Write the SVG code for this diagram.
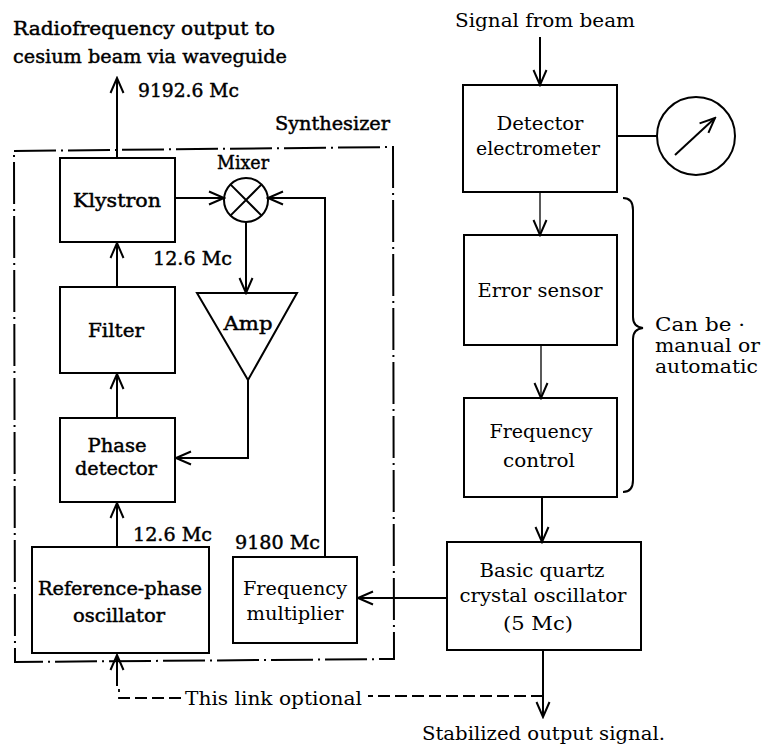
<svg xmlns="http://www.w3.org/2000/svg" width="764" height="744" viewBox="0 0 764 744">
<style>
text{font-family:"DejaVu Serif","Liberation Serif",serif;font-size:19px;fill:#000}
.b{stroke:#000;stroke-width:0.45}
.c{text-anchor:middle}
.box{fill:#fff;stroke:#000;stroke-width:2}
.ln{fill:none;stroke:#000;stroke-width:2}
.thin{fill:none;stroke:#000;stroke-width:1.3}
.dash{fill:none;stroke:#000;stroke-width:1.8;stroke-dasharray:12 5}
.synth{fill:none;stroke:#000;stroke-width:2;stroke-dasharray:42 5 2 5}
</style>
<defs>
<marker id="ah" markerWidth="18" markerHeight="16" refX="16" refY="8" orient="auto" markerUnits="userSpaceOnUse" viewBox="0 0 18 16">
<path d="M1,1.5 L16,8 L1,14.5" fill="none" stroke="#000" stroke-width="2"/>
</marker>
</defs>

<rect width="764" height="744" fill="#fff"/>

<g id="synthesizer">
<path class="synth" d="M14,151 L393,147 L394,659 L15,662 Z"/>
<text class="b" x="275" y="130" textLength="115" lengthAdjust="spacingAndGlyphs">Synthesizer</text>
</g>

<g id="labels">
<text class="b" x="13" y="35" textLength="262" lengthAdjust="spacingAndGlyphs">Radiofrequency output to</text>
<text class="b" x="13" y="63" textLength="274" lengthAdjust="spacingAndGlyphs">cesium beam via waveguide</text>
<text class="b" x="138" y="97" textLength="101" lengthAdjust="spacingAndGlyphs">9192.6 Mc</text>
<text class="b" x="153" y="265" textLength="79" lengthAdjust="spacingAndGlyphs">12.6 Mc</text>
<text class="b" x="133" y="541" textLength="79" lengthAdjust="spacingAndGlyphs">12.6 Mc</text>
<text class="b" x="235" y="549" textLength="85" lengthAdjust="spacingAndGlyphs">9180 Mc</text>
<text x="455" y="27" textLength="180" lengthAdjust="spacingAndGlyphs">Signal from beam</text>
<text x="655" y="331" textLength="90" lengthAdjust="spacingAndGlyphs">Can be ·</text>
<text x="655" y="352" textLength="105" lengthAdjust="spacingAndGlyphs">manual or</text>
<text x="655" y="373" textLength="103" lengthAdjust="spacingAndGlyphs">automatic</text>
<text x="185" y="705" textLength="177" lengthAdjust="spacingAndGlyphs">This link optional</text>
<text x="422" y="740" textLength="243" lengthAdjust="spacingAndGlyphs">Stabilized output signal.</text>
<path class="ln" d="M623,198 Q633,198 633,210 V317 Q633,327 643,328 Q633,329 633,339 V480 Q633,492 623,492"/>
</g>

<g id="klystron">
<rect class="box" x="60" y="158" width="115" height="84"/>
<text class="b c" x="117" y="207" textLength="88" lengthAdjust="spacingAndGlyphs">Klystron</text>
</g>

<g id="mixer">
<circle cx="246" cy="200" r="22" fill="#fff" stroke="#000" stroke-width="2"/>
<path class="ln" d="M230.4,184.4 L261.6,215.6 M261.6,184.4 L230.4,215.6"/>
<text class="b c" x="243" y="169" textLength="52" lengthAdjust="spacingAndGlyphs">Mixer</text>
</g>

<g id="amp">
<polygon points="197,293 297,293 248,380" fill="#fff" stroke="#000" stroke-width="2"/>
<text class="b c" x="248" y="330" textLength="49" lengthAdjust="spacingAndGlyphs">Amp</text>
</g>

<g id="filter">
<rect class="box" x="60" y="287" width="115" height="86"/>
<text class="b c" x="116" y="337" textLength="56" lengthAdjust="spacingAndGlyphs">Filter</text>
</g>

<g id="phase-detector">
<rect class="box" x="60" y="418" width="115" height="84"/>
<text class="b c" x="117" y="452" textLength="59" lengthAdjust="spacingAndGlyphs">Phase</text>
<text class="b c" x="116" y="475" textLength="82" lengthAdjust="spacingAndGlyphs">detector</text>
</g>

<g id="reference-oscillator">
<rect class="box" x="32" y="547" width="177" height="106"/>
<text class="b c" x="120" y="595" textLength="164" lengthAdjust="spacingAndGlyphs">Reference-phase</text>
<text class="b c" x="119" y="622" textLength="92" lengthAdjust="spacingAndGlyphs">oscillator</text>
</g>

<g id="frequency-multiplier">
<rect class="box" x="233" y="557" width="124" height="86"/>
<text class="c" x="295" y="595" textLength="104" lengthAdjust="spacingAndGlyphs">Frequency</text>
<text class="c" x="295" y="620" textLength="97" lengthAdjust="spacingAndGlyphs">multiplier</text>
</g>

<g id="detector-electrometer">
<rect class="box" x="463" y="85" width="154" height="107"/>
<text class="c" x="540" y="130" textLength="87" lengthAdjust="spacingAndGlyphs">Detector</text>
<text class="c" x="538" y="155" textLength="124" lengthAdjust="spacingAndGlyphs">electrometer</text>
</g>

<g id="meter">
<circle cx="696" cy="136" r="39" fill="#fff" stroke="#000" stroke-width="2"/>
<line class="ln" x1="675" y1="155" x2="715" y2="118" marker-end="url(#ah)"/>
</g>

<g id="error-sensor">
<rect class="box" x="464" y="235" width="153" height="110"/>
<text class="c" x="540" y="297" textLength="125" lengthAdjust="spacingAndGlyphs">Error sensor</text>
</g>

<g id="frequency-control">
<rect class="box" x="464" y="398" width="153" height="99"/>
<text class="c" x="541" y="438" textLength="103" lengthAdjust="spacingAndGlyphs">Frequency</text>
<text class="c" x="539" y="467" textLength="72" lengthAdjust="spacingAndGlyphs">control</text>
</g>

<g id="crystal-oscillator">
<rect class="box" x="447" y="542" width="194" height="108"/>
<text class="c" x="542" y="577" textLength="125" lengthAdjust="spacingAndGlyphs">Basic quartz</text>
<text class="c" x="543" y="602" textLength="167" lengthAdjust="spacingAndGlyphs">crystal oscillator</text>
<text class="c" x="538" y="630" textLength="70" lengthAdjust="spacingAndGlyphs">(5 Mc)</text>
</g>

<g id="connectors">
<line class="ln" x1="117" y1="158" x2="117" y2="78" marker-end="url(#ah)"/>
<line class="ln" x1="117" y1="287" x2="117" y2="243" marker-end="url(#ah)"/>
<line class="ln" x1="117" y1="418" x2="117" y2="374" marker-end="url(#ah)"/>
<line class="ln" x1="117" y1="547" x2="117" y2="503" marker-end="url(#ah)"/>
<line class="ln" x1="175" y1="198" x2="224" y2="198" marker-end="url(#ah)"/>
<path class="ln" d="M325,557 V198 H268" marker-end="url(#ah)"/>
<line class="ln" x1="246" y1="222" x2="246" y2="293" marker-end="url(#ah)"/>
<path class="ln" d="M248,380 V458 H176" marker-end="url(#ah)"/>
<line class="ln" x1="447" y1="598" x2="358" y2="598" marker-end="url(#ah)"/>
<line class="ln" x1="617" y1="136" x2="657" y2="136"/>
<line class="ln" x1="540" y1="37" x2="540" y2="85" marker-end="url(#ah)"/>
<line class="thin" x1="540" y1="192" x2="540" y2="235" marker-end="url(#ah)"/>
<line class="thin" x1="541" y1="345" x2="541" y2="398" marker-end="url(#ah)"/>
<line class="ln" x1="542" y1="497" x2="542" y2="542" marker-end="url(#ah)"/>
<line class="ln" x1="543" y1="650" x2="543" y2="717" marker-end="url(#ah)"/>
<line class="ln" x1="117" y1="686" x2="117" y2="655" marker-end="url(#ah)"/>
<path class="dash" d="M543,696 H368"/>
<path class="dash" d="M181,698 H119 V689"/>
</g>
</svg>
